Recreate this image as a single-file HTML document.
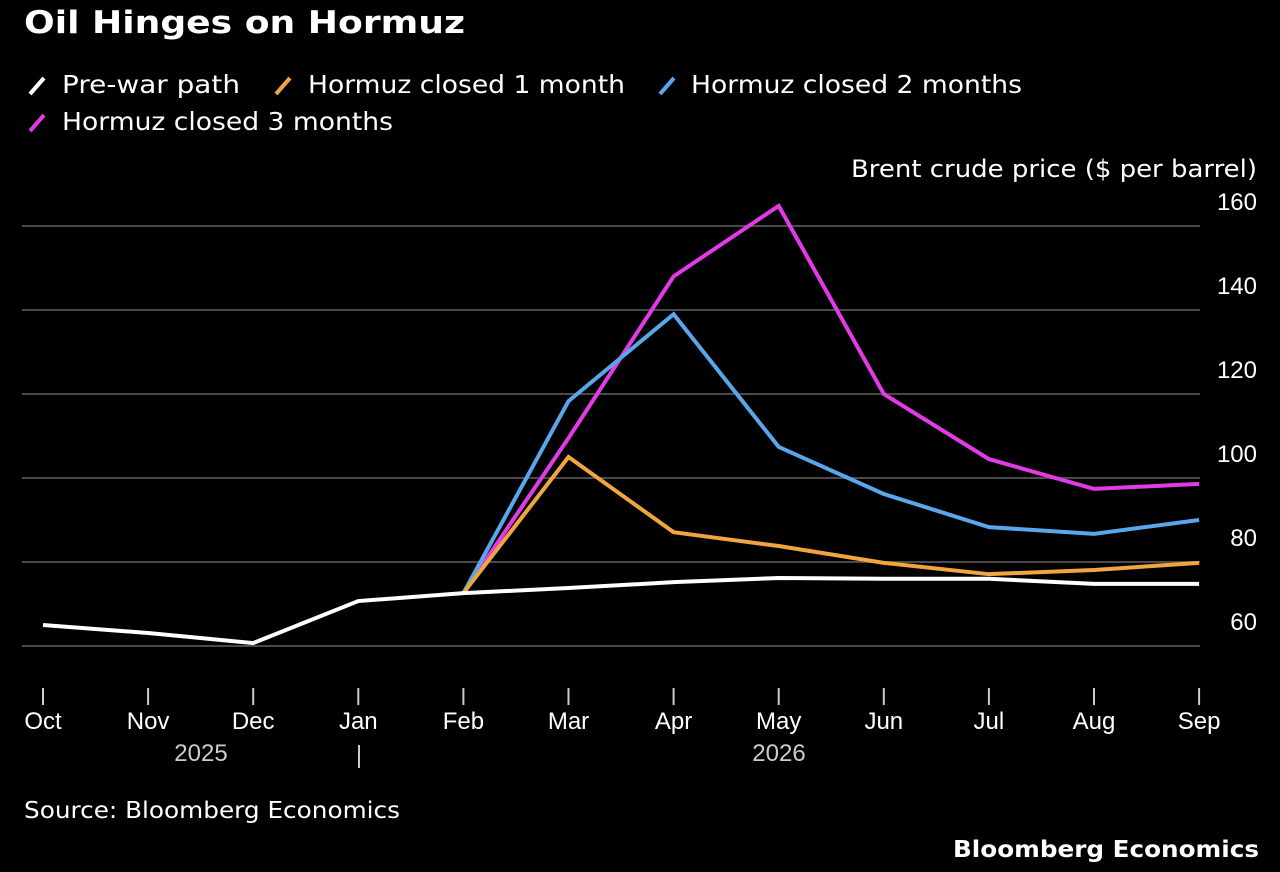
<!DOCTYPE html>
<html><head><meta charset="utf-8"><style>
body{margin:0;background:#000;width:1280px;height:872px;overflow:hidden;font-family:"Liberation Sans",sans-serif;color:#fff}
</style></head><body>
<svg width="1280" height="872" style="position:absolute;left:0;top:0">
<text x="24" y="33" font-size="31" font-weight="bold" fill="#fff" font-family="DejaVu Sans, sans-serif" textLength="441" lengthAdjust="spacingAndGlyphs">Oil Hinges on Hormuz</text>
<g font-size="25" fill="#fff" font-family="DejaVu Sans, sans-serif">
<g><line x1="30" y1="94" x2="44" y2="78" stroke="#fff" stroke-width="4"/><text x="62" y="93" textLength="178" lengthAdjust="spacingAndGlyphs">Pre-war path</text></g>
<g><line x1="276" y1="94" x2="290" y2="78" stroke="#f0a640" stroke-width="4"/><text x="308" y="93" textLength="317" lengthAdjust="spacingAndGlyphs">Hormuz closed 1 month</text></g>
<g><line x1="660" y1="94" x2="674" y2="78" stroke="#5aa6ea" stroke-width="4"/><text x="691" y="93" textLength="331" lengthAdjust="spacingAndGlyphs">Hormuz closed 2 months</text></g>
<g><line x1="30" y1="131" x2="44" y2="115" stroke="#e23ae6" stroke-width="4"/><text x="62" y="130" textLength="331" lengthAdjust="spacingAndGlyphs">Hormuz closed 3 months</text></g>
</g>
<text x="851" y="177" font-size="24" fill="#fff" font-family="DejaVu Sans, sans-serif" textLength="406" lengthAdjust="spacingAndGlyphs">Brent crude price ($ per barrel)</text>
<g id="grid"></g><g id="xaxis"></g><g id="series"></g>
<text x="24" y="818" font-size="23" fill="#fff" font-family="DejaVu Sans, sans-serif" textLength="376" lengthAdjust="spacingAndGlyphs">Source: Bloomberg Economics</text>
<text x="953" y="857" font-size="23" font-weight="bold" fill="#fff" font-family="DejaVu Sans, sans-serif" textLength="306" lengthAdjust="spacingAndGlyphs">Bloomberg Economics</text>
</svg>
<script>
const months=["Oct","Nov","Dec","Jan","Feb","Mar","Apr","May","Jun","Jul","Aug","Sep"];
const yTicks=[60,80,100,120,140,160];
const prewar=[65,63.1,60.7,70.7,72.6,73.8,75.2,76.2,76,76,74.8,74.8];
const closed1=[null,null,null,null,72.6,105,87.1,83.8,79.8,77.1,78.1,79.8];
const closed2=[null,null,null,null,72.6,118.3,139,107.4,96.2,88.3,86.7,90];
const closed3=[null,null,null,null,72.6,109.5,148,164.8,120,104.5,97.4,98.6];
const NS="http://www.w3.org/2000/svg";
const x=i=>43+i*105.1;
const y=v=>646-(v-60)*4.2;
function mk(t,a,p){const e=document.createElementNS(NS,t);for(const k in a)e.setAttribute(k,a[k]);p.appendChild(e);return e;}
const grid=document.getElementById('grid');
yTicks.forEach(v=>{
 const l=mk('line',{x1:22,x2:1200,y1:y(v),y2:y(v),stroke:'#4a4a4a','stroke-width':2},grid);
 
 
 const t=mk('text',{x:1257,y:y(v)-16,'font-size':24,'text-anchor':'end',fill:'#fff'},grid);
 t.textContent=v;
 
 
});
const xa=document.getElementById('xaxis');
months.forEach((m,i)=>{
 const l=mk('line',{x1:x(i),x2:x(i),y1:688,y2:705,stroke:'#ccc','stroke-width':2},xa);
 
 
 const t=mk('text',{x:x(i),y:729,'font-size':24,'text-anchor':'middle',fill:'#fff'},xa);
 t.textContent=m;
 
 
});
[["2025",201],["2026",779]].forEach(([s,px])=>{
 const t=mk('text',{x:px,y:761,'font-size':24,'text-anchor':'middle',fill:'#ccc'},xa);
 t.textContent=s;
 
 
});
const sep=mk('line',{x1:359,x2:359,y1:745,y2:768,stroke:'#ccc','stroke-width':2},xa);


const sg=document.getElementById('series');
[[closed3,'#e23ae6','closed-3-months'],[closed2,'#5aa6ea','closed-2-months'],[closed1,'#f0a640','closed-1-month'],[prewar,'#fff','prewar']].forEach(([d,c,n])=>{
 const pts=d.map((v,i)=>v==null?null:x(i)+','+y(v)).filter(p=>p).join(' ');
 const p=mk('polyline',{points:pts,fill:'none',stroke:c,'stroke-width':4},sg);
 
 
});
</script>
</body></html>
